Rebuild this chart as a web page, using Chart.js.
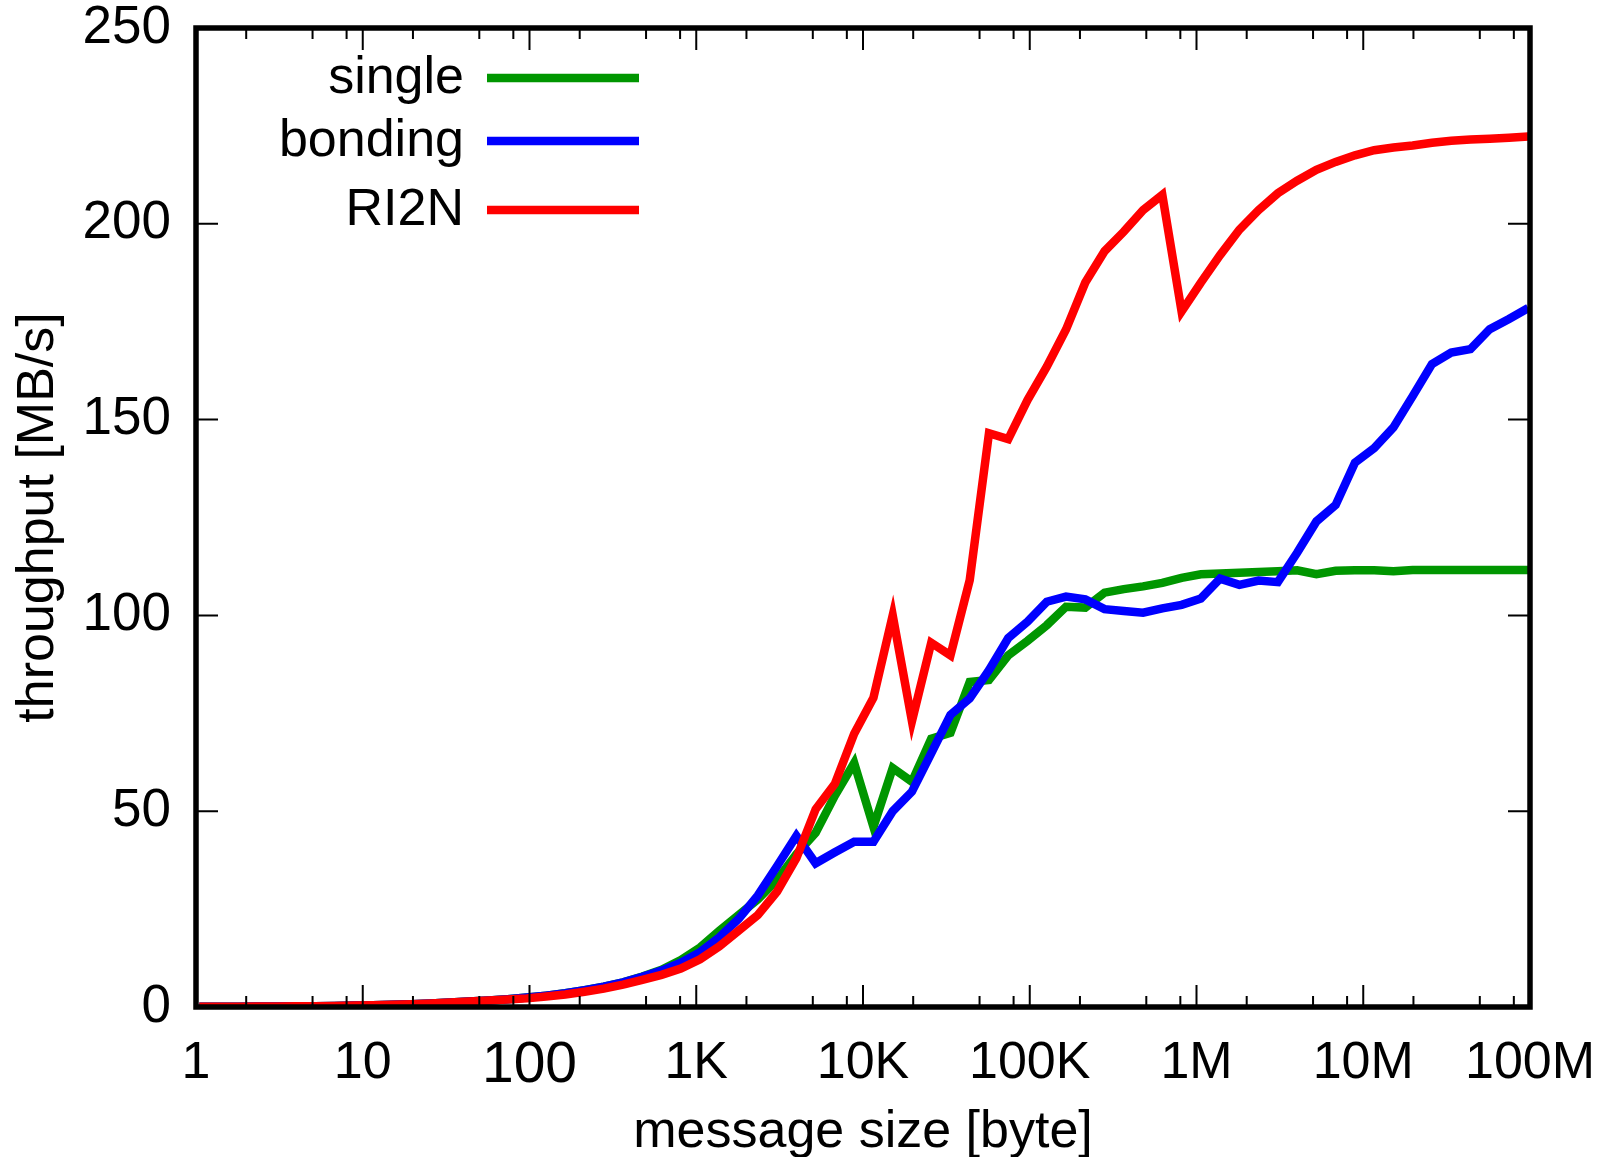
<!DOCTYPE html>
<html>
<head>
<meta charset="utf-8">
<script src="https://cdn.jsdelivr.net/npm/chart.js@4.4.0/dist/chart.umd.min.js"></script>
<style>
  html, body { margin: 0; padding: 0; background: #fff; }
  canvas { display: block; }
</style>
</head>
<body>
<canvas id="myChart" width="1617" height="1157"></canvas>
<script>
// message sizes [byte]
const sizes = [1.047, 1.366, 1.782, 2.325, 3.034, 3.958, 5.164, 6.738, 8.79, 11.47,
  14.96, 19.52, 25.47, 33.23, 43.35, 56.56, 73.79, 96.27, 125.6, 163.9,
  213.8, 279, 363.9, 474.8, 619.4, 808.2, 1054, 1376, 1795, 2342,
  3055, 3986, 5200, 6785, 8851, 11550, 15070, 19660, 25650, 33460,
  43650, 56950, 74300, 96940, 126500, 165000, 215300, 280900, 366400, 478100,
  623700, 813800, 1062000, 1385000, 1807000, 2358000, 3076000, 4013000, 5236000, 6831000,
  8913000, 11630000, 15170000, 19790000, 25820000, 33690000, 43950000, 57350000, 74820000, 97610000];

// throughput [MB/s]
const single = [0.05, 0.06, 0.08, 0.1, 0.13, 0.17, 0.22, 0.28, 0.36, 0.46,
  0.58, 0.73, 0.92, 1.15, 1.4, 1.65, 2.0, 2.4, 2.9, 3.5,
  4.3, 5.2, 6.3, 7.8, 9.5, 12, 15.2, 19.5, 23.5, 27.5,
  32.5, 39, 44.5, 54, 62.3, 46, 61, 57.5, 68.5, 70,
  83, 83.5, 89.8, 93.5, 97.5, 102.2, 102, 105.8, 106.7, 107.4,
  108.3, 109.6, 110.5, 110.7, 110.9, 111.1, 111.3, 111.5, 110.5, 111.4,
  111.5, 111.5, 111.3, 111.6, 111.6, 111.6, 111.6, 111.6, 111.6, 111.6];

const bonding = [0.05, 0.06, 0.08, 0.1, 0.13, 0.17, 0.22, 0.28, 0.36, 0.46,
  0.58, 0.73, 0.92, 1.15, 1.4, 1.65, 2.0, 2.4, 2.9, 3.5,
  4.3, 5.2, 6.3, 7.7, 9.3, 11.3, 14, 17.8, 22.5, 28.5,
  36, 43.7, 36.7, 39.5, 42.2, 42.2, 50, 55, 64.8, 74.6,
  78.8, 86, 94.2, 98.4, 103.5, 104.8, 104.1, 101.6, 101.1, 100.7,
  101.8, 102.7, 104.3, 109.4, 107.8, 108.9, 108.5, 116, 124, 128.2,
  139, 142.7, 148, 156, 164.2, 167.1, 168, 173.1, 175.7, 178.5];

const ri2n = [0.05, 0.06, 0.08, 0.1, 0.13, 0.17, 0.22, 0.28, 0.36, 0.46,
  0.58, 0.73, 0.92, 1.15, 1.4, 1.65, 1.9, 2.2, 2.7, 3.2,
  3.9, 4.7, 5.7, 6.9, 8.2, 9.8, 12.2, 15.5, 19.5, 23.5,
  29.5, 38, 50.5, 57, 69.8, 79, 100, 73, 93, 89.8,
  109, 146.5, 145, 155, 163.5, 173, 185, 193, 198, 203.5,
  207.4, 177.6, 185, 192, 198.5, 203.5, 207.8, 211, 213.8, 215.8,
  217.5, 218.8, 219.5, 220, 220.7, 221.2, 221.5, 221.7, 222, 222.3];

const xTickValues = [1, 10, 100, 1e3, 1e4, 1e5, 1e6, 1e7, 1e8];
const xTickLabels = ["1", "10", "100", "1K", "10K", "100K", "1M", "10M", "100M"];
const xMinorSteps = [2, 5, 8];
const yTickValues = [0, 50, 100, 150, 200, 250];

const FONT = "'Liberation Sans', Arial, sans-serif";
Chart.defaults.font.family = FONT;
Chart.defaults.color = "#000";

const toPoints = (ys) => sizes.map((x, i) => ({ x: x, y: ys[i] }));

const lineStyle = {
  borderWidth: 8.5,
  pointRadius: 0,
  tension: 0,
  borderJoinStyle: "miter",
  borderCapStyle: "butt",
  fill: false,
};

// gnuplot-like box with inward ticks on all four sides
const framePlugin = {
  id: "frame",
  afterDraw(chart) {
    const { ctx, chartArea: a, scales: { x, y } } = chart;
    ctx.save();
    ctx.strokeStyle = "#000";
    ctx.lineWidth = 2;
    ctx.beginPath();
    yTickValues.forEach((v) => {
      const py = y.getPixelForValue(v);
      ctx.moveTo(a.left, py); ctx.lineTo(a.left + 22, py);
      ctx.moveTo(a.right, py); ctx.lineTo(a.right - 22, py);
    });
    xTickValues.forEach((v, i) => {
      const px = x.getPixelForValue(v);
      ctx.moveTo(px, a.bottom); ctx.lineTo(px, a.bottom - 22);
      ctx.moveTo(px, a.top); ctx.lineTo(px, a.top + 22);
      if (i < xTickValues.length - 1) {
        xMinorSteps.forEach((m) => {
          const pm = x.getPixelForValue(v * m);
          ctx.moveTo(pm, a.bottom); ctx.lineTo(pm, a.bottom - 11);
          ctx.moveTo(pm, a.top); ctx.lineTo(pm, a.top + 11);
        });
      }
    });
    ctx.stroke();
    ctx.lineWidth = 5.5;
    ctx.strokeRect(a.left, a.top, a.right - a.left, a.bottom - a.top);
    ctx.restore();
  },
};

// key in the top left corner: text right aligned, sample line after it
const keyPlugin = {
  id: "key",
  afterDraw(chart) {
    const { ctx } = chart;
    const rows = [78, 141, 210];
    ctx.save();
    ctx.font = "52px " + FONT;
    ctx.textAlign = "right";
    ctx.textBaseline = "middle";
    ctx.lineCap = "butt";
    chart.data.datasets.forEach((ds, i) => {
      const yy = rows[i];
      ctx.fillStyle = "#000";
      ctx.fillText(ds.label, 464, yy + 1);
      ctx.strokeStyle = ds.borderColor;
      ctx.lineWidth = 8.5;
      ctx.beginPath();
      ctx.moveTo(487, yy);
      ctx.lineTo(639, yy);
      ctx.stroke();
    });
    ctx.restore();
  },
};

const noPad = (scale) => {
  scale.paddingTop = 0;
  scale.paddingBottom = 0;
  scale.paddingLeft = 0;
  scale.paddingRight = 0;
};

const ctx = document.getElementById("myChart");
const myChart = new Chart(ctx, {
  type: "line",
  plugins: [framePlugin, keyPlugin],
  data: {
    datasets: [
      { label: "single", data: toPoints(single), borderColor: "rgb(0, 150, 0)", order: 3, ...lineStyle },
      { label: "bonding", data: toPoints(bonding), borderColor: "rgb(0, 0, 255)", order: 2, ...lineStyle },
      { label: "RI2N", data: toPoints(ri2n), borderColor: "rgb(255, 0, 0)", order: 1, ...lineStyle },
    ],
  },
  options: {
    responsive: false,
    animation: false,
    devicePixelRatio: 1,
    layout: { padding: { left: 0, top: 28, right: 87, bottom: 0 } },
    plugins: {
      legend: { display: false },
      tooltip: { enabled: false },
    },
    scales: {
      x: {
        type: "logarithmic",
        min: 1,
        max: 1e8,
        grid: { display: false, drawTicks: false, tickLength: 0 },
        border: { display: false },
        afterBuildTicks: (scale) => {
          scale.ticks = xTickValues.map((v) => ({ value: v }));
        },
        afterFit: (scale) => { scale.height = 150; noPad(scale); },
        ticks: {
          autoSkip: false,
          maxRotation: 0,
          padding: 25,
          color: "#000",
          font: (c) => ({ size: c.tick && c.tick.value === 100 ? 57 : 52 }),
          callback: (value) => {
            const i = xTickValues.indexOf(value);
            return i >= 0 ? xTickLabels[i] : "";
          },
        },
        title: {
          display: true,
          text: "message size [byte]",
          color: "#000",
          font: { size: 52 },
          padding: { top: 0, bottom: -7 },
        },
      },
      y: {
        min: 0,
        max: 250,
        grid: { display: false, drawTicks: false, tickLength: 0 },
        border: { display: false },
        afterBuildTicks: (scale) => {
          scale.ticks = yTickValues.map((v) => ({ value: v }));
        },
        afterFit: (scale) => { scale.width = 196; noPad(scale); },
        ticks: {
          padding: 25,
          color: "#000",
          font: { size: 53 },
        },
        title: {
          display: true,
          text: "throughput [MB/s]",
          color: "#000",
          font: { size: 52 },
          padding: { top: 7, bottom: 0 },
        },
      },
    },
  },
});
</script>
</body>
</html>
